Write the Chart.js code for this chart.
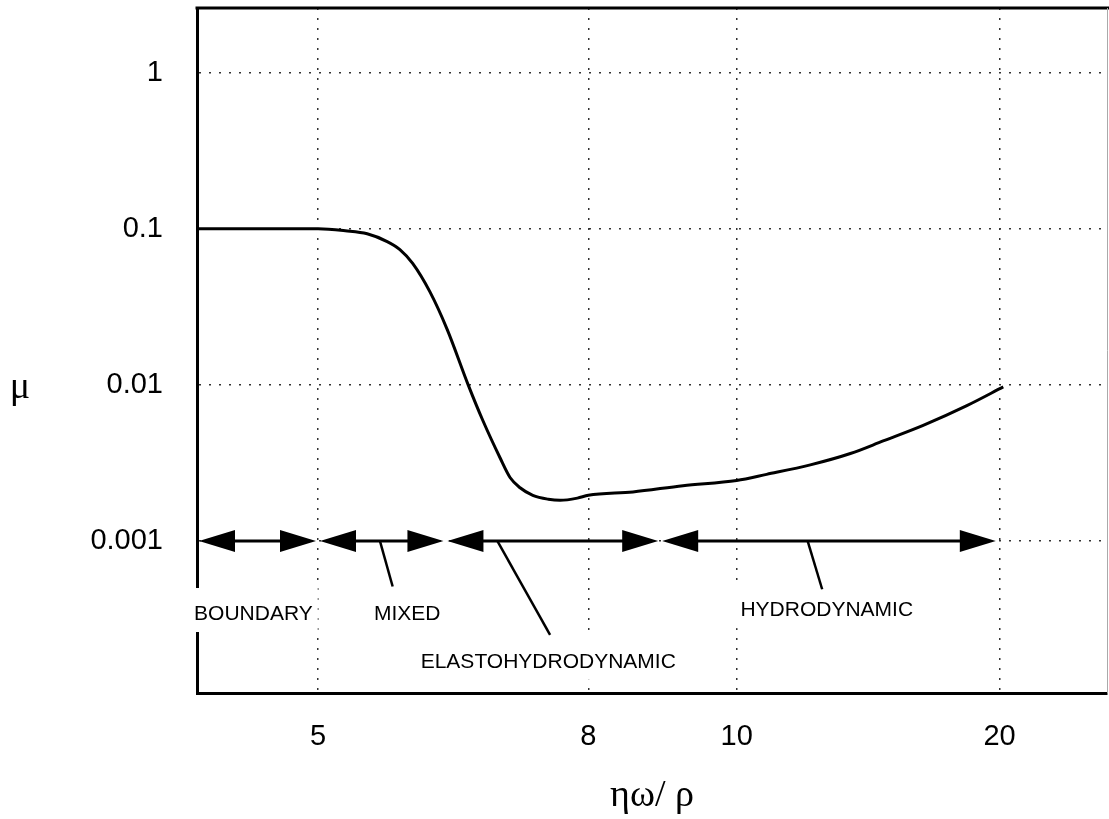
<!DOCTYPE html>
<html>
<head>
<meta charset="utf-8">
<title>Stribeck curve</title>
<script src="https://cdn.jsdelivr.net/npm/chart.js@4.4.1/dist/chart.umd.min.js"></script>
<style>
    html, body { margin: 0; padding: 0; background: #fff; }
    #wrap { position: relative; width: 1109px; height: 819px; }
</style>
</head>
<body>
<div id="wrap"><canvas id="stribeckChart"></canvas></div>
<script>
// The x axis is schematic: ticks sit at uneven positions on a 0-10 scale
const xTickPositions = [1.33, 4.30, 5.93, 8.82];
const xTickLabels = ['5', '8', '10', '20'];
const yTickValues = [1, 0.1, 0.01, 0.001];

// Friction coefficient curve
const curvePos = [0.00, 1.33, 1.63, 1.87, 2.09, 2.23, 2.37, 2.56, 2.75, 2.98,
                  3.14, 3.33, 3.44, 3.55, 3.69, 3.86, 3.99, 4.18, 4.30, 4.79,
                  5.34, 5.93, 6.26, 6.74, 7.18, 7.54, 7.98, 8.46, 8.86];
const curveMu = [0.1, 0.1, 0.0971, 0.0929, 0.0828, 0.0736, 0.060, 0.0394, 0.0226, 0.0100,
                 0.00593, 0.00341, 0.00255, 0.00219, 0.00196, 0.00185, 0.00182, 0.00188, 0.00196, 0.00206,
                 0.00226, 0.00244, 0.00267, 0.00307, 0.00363, 0.00437, 0.0055, 0.00736, 0.0097];

// Lubrication regimes, drawn as double arrows along mu = 0.001
const arrowMu = 0.001;
const regimeNames = ['BOUNDARY', 'MIXED', 'ELASTOHYDRODYNAMIC', 'HYDRODYNAMIC'];
const regimeStart = [0.00, 1.33, 2.73, 5.09];
const regimeEnd = [1.33, 2.73, 5.09, 8.80];
const regimeLabelX = [0.62, 2.31, 3.86, 6.92];
const regimeLabelMu = [3.4e-4, 3.4e-4, 1.68e-4, 3.6e-4];
// leader lines from the arrow shaft down to the label (none for BOUNDARY)
const leaderFromX = [null, 2.01, 3.30, 6.71];
const leaderToX = [null, 2.15, 3.88, 6.87];
const leaderToMu = [null, 5.1e-4, 2.5e-4, 4.9e-4];

const tickFont = { family: '"Liberation Sans", Arial, sans-serif', size: 29 };
const serifFont = '"Liberation Serif", "DejaVu Serif", serif';

function drawHead(ctx, tipX, y, dir) {
    ctx.beginPath();
    ctx.moveTo(tipX, y);
    ctx.lineTo(tipX + dir * 36, y - 11);
    ctx.lineTo(tipX + dir * 36, y + 11);
    ctx.closePath();
    ctx.fill();
}

// Arrows, leader lines and regime labels
const regimePlugin = {
    id: 'regimes',
    afterDatasetsDraw(chart) {
        const ctx = chart.ctx;
        const xs = chart.scales.x;
        const ys = chart.scales.y;
        const yArrow = ys.getPixelForValue(arrowMu);

        ctx.save();
        ctx.font = '21px "Liberation Sans", Arial, sans-serif';
        ctx.textAlign = 'center';
        ctx.textBaseline = 'middle';

        // white boxes behind labels (they cut the frame and the grid)
        regimeNames.forEach((name, i) => {
            const cx = xs.getPixelForValue(regimeLabelX[i]);
            const cy = ys.getPixelForValue(regimeLabelMu[i]);
            const w = ctx.measureText(name).width;
            ctx.fillStyle = '#fff';
            ctx.fillRect(cx - w / 2 - 5, cy - 26, w + 10, 44);
        });

        ctx.fillStyle = '#000';
        ctx.strokeStyle = '#000';
        regimeStart.forEach((s, i) => {
            const x0 = xs.getPixelForValue(s) + 2;
            const x1 = xs.getPixelForValue(regimeEnd[i]) - 2;
            ctx.lineWidth = 3;
            ctx.beginPath();
            ctx.moveTo(x0 + 10, yArrow);
            ctx.lineTo(x1 - 10, yArrow);
            ctx.stroke();
            drawHead(ctx, x0, yArrow, 1);
            drawHead(ctx, x1, yArrow, -1);

            if (leaderFromX[i] !== null) {
                ctx.lineWidth = 2.5;
                ctx.beginPath();
                ctx.moveTo(xs.getPixelForValue(leaderFromX[i]), yArrow);
                ctx.lineTo(xs.getPixelForValue(leaderToX[i]), ys.getPixelForValue(leaderToMu[i]));
                ctx.stroke();
            }
        });

        regimeNames.forEach((name, i) => {
            ctx.fillText(name, xs.getPixelForValue(regimeLabelX[i]), ys.getPixelForValue(regimeLabelMu[i]));
        });
        ctx.restore();
    },
    afterDraw(chart) {
        const ctx = chart.ctx;
        const area = chart.chartArea;
        ctx.save();
        // top and right edges of the frame
        ctx.fillStyle = '#000';
        ctx.fillRect(area.left - 1.5, area.top - 1.5, chart.width - area.left + 1.5, 3);
        ctx.strokeStyle = '#aaa';
        ctx.lineWidth = 1;
        ctx.beginPath();
        ctx.moveTo(area.right + 0.5, area.top);
        ctx.lineTo(area.right + 0.5, area.bottom);
        ctx.stroke();
        // y axis title, kept upright
        ctx.fillStyle = '#000';
        ctx.font = '38px ' + serifFont;
        ctx.textAlign = 'center';
        ctx.textBaseline = 'middle';
        ctx.fillText('μ', 20, 388);
        ctx.restore();
    }
};

function initializeChart() {
    const ctx = document.getElementById('stribeckChart').getContext('2d');
    new Chart(ctx, {
        type: 'line',
        data: {
            datasets: [{
                data: curvePos.map((x, i) => ({ x: x, y: curveMu[i] })),
                borderColor: '#000',
                borderWidth: 3,
                pointRadius: 0,
                fill: false,
                cubicInterpolationMode: 'monotone'
            }]
        },
        options: {
            responsive: true,
            maintainAspectRatio: false,
            animation: false,
            layout: { padding: { top: 8, right: 2, left: 0, bottom: 0 } },
            plugins: {
                legend: { display: false },
                tooltip: { enabled: false }
            },
            scales: {
                x: {
                    type: 'linear',
                    min: 0,
                    max: 10,
                    afterBuildTicks: scale => {
                        scale.ticks = xTickPositions.map(v => ({ value: v }));
                    },
                    afterFit: scale => {
                        scale.height = 126;
                        scale.paddingLeft = 0;
                        scale.paddingRight = 0;
                    },
                    ticks: {
                        autoSkip: false,
                        maxRotation: 0,
                        padding: 27,
                        color: '#000',
                        font: tickFont,
                        callback: (value, index) => xTickLabels[index]
                    },
                    grid: { color: '#333', lineWidth: 1.5, drawTicks: false },
                    border: { display: true, width: 3, color: '#000', dash: [2, 8] },
                    title: {
                        display: true,
                        text: 'ηω/ ρ',
                        color: '#000',
                        font: { family: serifFont, size: 38 },
                        padding: { top: 0, bottom: 0 }
                    }
                },
                y: {
                    type: 'logarithmic',
                    min: 1.06e-4,
                    max: 2.6,
                    afterBuildTicks: scale => {
                        scale.ticks = yTickValues.map(v => ({ value: v }));
                    },
                    afterFit: scale => {
                        scale.width = 197;
                        scale.paddingTop = 0;
                        scale.paddingBottom = 0;
                    },
                    ticks: {
                        autoSkip: false,
                        padding: 34,
                        color: '#000',
                        font: tickFont,
                        callback: value => String(value)
                    },
                    grid: { color: '#333', lineWidth: 1.5, drawTicks: false },
                    border: { display: true, width: 3, color: '#000', dash: [2, 8] }
                }
            }
        },
        plugins: [regimePlugin]
    });
}

document.addEventListener('DOMContentLoaded', initializeChart);
</script>
</body>
</html>
